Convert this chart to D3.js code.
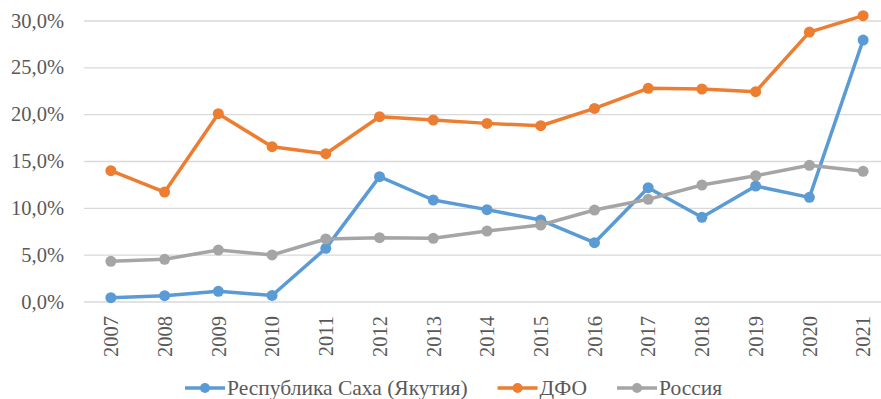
<!DOCTYPE html>
<html>
<head>
<meta charset="utf-8">
<script src="https://cdn.jsdelivr.net/npm/d3@7"></script>
<style>
  html, body { margin: 0; padding: 0; background: #fff; }
  svg { display: block; }
</style>
</head>
<body>
<svg id="chart" width="881" height="399"></svg>
<script>
// Years on the horizontal axis
const years = ["2007","2008","2009","2010","2011","2012","2013","2014","2015","2016","2017","2018","2019","2020","2021"];

// Series values, percent
const sakha  = [0.46, 0.67, 1.14, 0.70, 5.73, 13.38, 10.89, 9.86, 8.75, 6.33, 12.20, 9.04, 12.38, 11.17, 27.97];
const dfo    = [14.02, 11.74, 20.10, 16.58, 15.83, 19.78, 19.43, 19.07, 18.82, 20.67, 22.81, 22.74, 22.45, 28.82, 30.57];
const russia = [4.34, 4.56, 5.55, 5.02, 6.73, 6.87, 6.80, 7.58, 8.22, 9.82, 10.96, 12.49, 13.48, 14.59, 13.95];

// Y ticks
const yTicks = [0, 5, 10, 15, 20, 25, 30];

const seriesNames  = ["Республика Саха (Якутия)", "ДФО", "Россия"];
const seriesColors = ["#5B9BD5", "#ED7D31", "#A5A5A5"];
const seriesData   = [sakha, dfo, russia];

const FONT = "'Liberation Serif', 'Times New Roman', serif";
const AXIS_FONT_SIZE = "20.5px";
const LEGEND_FONT_SIZE = "21.5px";
const TEXT_COLOR = "#595959";

const svg = d3.select("#chart");

const x = d3.scalePoint().domain(years).range([84, 890]).padding(0.5);
const y = d3.scaleLinear().domain([0, 30]).range([302, 21]);

const fmt = v => v.toFixed(1).replace(".", ",") + "%";

// Horizontal gridlines
svg.append("g")
  .selectAll("line")
  .data(yTicks)
  .join("line")
  .attr("x1", 84).attr("x2", 881)
  .attr("y1", d => y(d)).attr("y2", d => y(d))
  .attr("stroke", "#D9D9D9")
  .attr("stroke-width", 1.3);

// Y axis labels
const yAxis = d3.axisLeft(y).tickValues(yTicks).tickFormat(fmt).tickSize(0).tickPadding(0);
const gy = svg.append("g").attr("transform", "translate(64,0)").call(yAxis);
gy.select(".domain").remove();
gy.selectAll("text")
  .style("font-family", FONT)
  .style("font-size", AXIS_FONT_SIZE)
  .style("fill", TEXT_COLOR)
  .attr("dy", "0.3em");

// X axis labels, rotated
const xAxis = d3.axisBottom(x).tickSize(0).tickPadding(0);
const gx = svg.append("g").attr("transform", "translate(0,316)").call(xAxis);
gx.select(".domain").remove();
gx.selectAll("text")
  .style("font-family", FONT)
  .style("font-size", AXIS_FONT_SIZE)
  .style("fill", TEXT_COLOR)
  .attr("transform", "rotate(-90)")
  .attr("text-anchor", "end")
  .attr("x", 0)
  .attr("y", 0)
  .attr("dy", "0.33em");

// Lines and markers
const line = d3.line().x((d, i) => x(years[i])).y(d => y(d));

seriesData.forEach((vals, s) => {
  const g = svg.append("g");
  g.append("path")
    .datum(vals)
    .attr("d", line)
    .attr("fill", "none")
    .attr("stroke", seriesColors[s])
    .attr("stroke-width", 3.5)
    .attr("stroke-linejoin", "round")
    .attr("stroke-linecap", "round");
  g.selectAll("circle")
    .data(vals)
    .join("circle")
    .attr("cx", (d, i) => x(years[i]))
    .attr("cy", d => y(d))
    .attr("r", 5.5)
    .attr("fill", seriesColors[s]);
});

// Legend, laid out left to right
const legend = svg.append("g").attr("transform", "translate(0,388)");
let cursor = 185;
seriesNames.forEach((name, s) => {
  const g = legend.append("g").attr("transform", `translate(${cursor},0)`);
  g.append("line")
    .attr("x1", 0).attr("x2", 40).attr("y1", 0).attr("y2", 0)
    .attr("stroke", seriesColors[s]).attr("stroke-width", 3.5);
  g.append("circle").attr("cx", 20).attr("cy", 0).attr("r", 5).attr("fill", seriesColors[s]);
  const t = g.append("text")
    .attr("x", 42).attr("y", 0).attr("dy", "0.33em")
    .style("font-family", FONT)
    .style("font-size", LEGEND_FONT_SIZE)
    .style("fill", TEXT_COLOR)
    .text(name);
  cursor += 42 + t.node().getComputedTextLength() + 30;
});
</script>
</body>
</html>
